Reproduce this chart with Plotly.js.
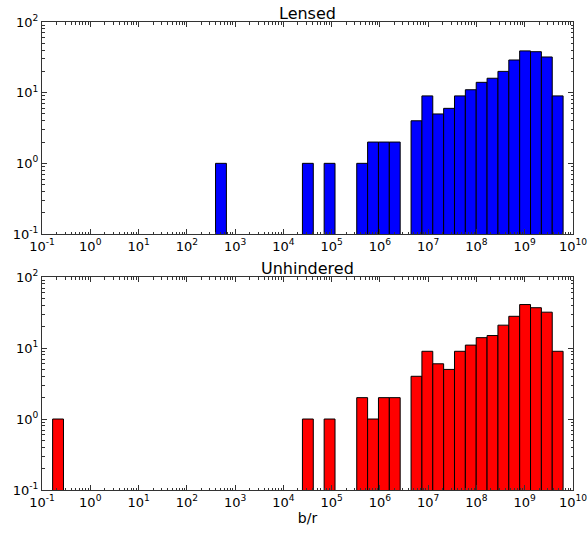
<!DOCTYPE html>
<html>
<head>
<meta charset="utf-8">
<script src="https://cdn.plot.ly/plotly-3.0.1.min.js"></script>
<style>html,body{margin:0;padding:0;background:#fff;}#chart{width:587px;height:535px;}</style>
</head>
<body>
<div id="chart"></div>
<script>
// Histogram bins in log10(b/r): 47 equal-width bins
const binLeftLog10 = -0.78;
const binWidthLog10 = 0.225;
const binCount = 47;

// Counts per bin (bin index -> count)
const lensedBinIdx  = [15, 23, 25, 28, 29, 30, 31, 33, 34, 35, 36, 37, 38, 39, 40, 41, 42, 43, 44, 45, 46];
const lensedCounts  = [ 1,  1,  1,  1,  2,  2,  2,  4,  9,  5,  6,  9, 11, 14, 16, 20, 29, 39, 38, 32,  9];
const unhindBinIdx  = [ 0, 23, 25, 28, 29, 30, 31, 33, 34, 35, 36, 37, 38, 39, 40, 41, 42, 43, 44, 45, 46];
const unhindCounts  = [ 1,  1,  1,  2,  1,  2,  2,  4,  9,  6,  5,  9, 11, 14, 15, 21, 28, 41, 37, 32,  9];

const xTickExps = [-1,0,1,2,3,4,5,6,7,8,9,10];
const yTickVals = [0.1,1,10,100];
const yTickExps = [-1,0,1,2];

const centers = idx => idx.map(i => binLeftLog10 + binWidthLog10*(i+0.5));
const sup = e => '10<sup>' + e + '</sup>';

const xMinor = [];
for (const e of xTickExps.slice(0,-1)) for (let k=2;k<=9;k++) xMinor.push(e + Math.log10(k));
const yMinor = [];
for (const e of yTickExps.slice(0,-1)) for (let k=2;k<=9;k++) yMinor.push(k*Math.pow(10,e));

const font = {family:'DejaVu Sans, sans-serif', size:13, color:'#000'};

function xax(anchor){
  return {anchor:anchor, type:'linear', range:[-1,10], showgrid:false, zeroline:false,
    showline:true, linecolor:'#333', linewidth:1, mirror:'ticks',
    ticks:'inside', ticklen:5, tickcolor:'#333', ticklabeloverflow:'allow',
    tickmode:'array', tickvals:xTickExps, ticktext:xTickExps.map(sup),
    minor:{tickvals:xMinor, ticks:'inside', ticklen:2.5, tickcolor:'#333', showgrid:false},
    tickfont:font};
}
function yax(anchor, domain){
  return {anchor:anchor, domain:domain, type:'log', range:[-1,2], showgrid:false, zeroline:false,
    showline:true, linecolor:'#333', linewidth:1, mirror:'ticks',
    ticks:'inside', ticklen:5, tickcolor:'#333',
    tickmode:'array', tickvals:yTickVals, ticktext:yTickExps.map(sup),
    minor:{tickvals:yMinor, ticks:'inside', ticklen:2.5, tickcolor:'#333', showgrid:false},
    tickfont:font};
}

const data = [
  {type:'bar', x:centers(lensedBinIdx), y:lensedCounts, width:binWidthLog10, xaxis:'x', yaxis:'y',
   marker:{color:'#0000ff', line:{color:'#000', width:1}}},
  {type:'bar', x:centers(unhindBinIdx), y:unhindCounts, width:binWidthLog10, xaxis:'x2', yaxis:'y2',
   marker:{color:'#ff0000', line:{color:'#000', width:1}}}
];

const titleFont = {family:'DejaVu Sans, sans-serif', size:16, color:'#000'};
const layout = {
  width:587, height:535, showlegend:false,
  paper_bgcolor:'#fff', plot_bgcolor:'#fff',
  margin:{l:42, r:14, t:22, b:45},
  bargap:0,
  xaxis: xax('y'),
  yaxis: yax('x', [0.547, 1]),
  xaxis2: Object.assign(xax('y2'), {title:{text:'b/r', font:{family:'DejaVu Sans, sans-serif', size:14, color:'#000'}, standoff:4}}),
  yaxis2: yax('x2', [0, 0.455]),
  annotations:[
    {text:'Lensed', xref:'paper', yref:'paper', x:0.5, y:1, yanchor:'bottom', showarrow:false, font:titleFont, yshift:-3},
    {text:'Unhindered', xref:'paper', yref:'paper', x:0.5, y:0.455, yanchor:'bottom', showarrow:false, font:titleFont, yshift:-3}
  ]
};

Plotly.newPlot('chart', data, layout, {displayModeBar:false, staticPlot:true});
</script>
</body>
</html>
